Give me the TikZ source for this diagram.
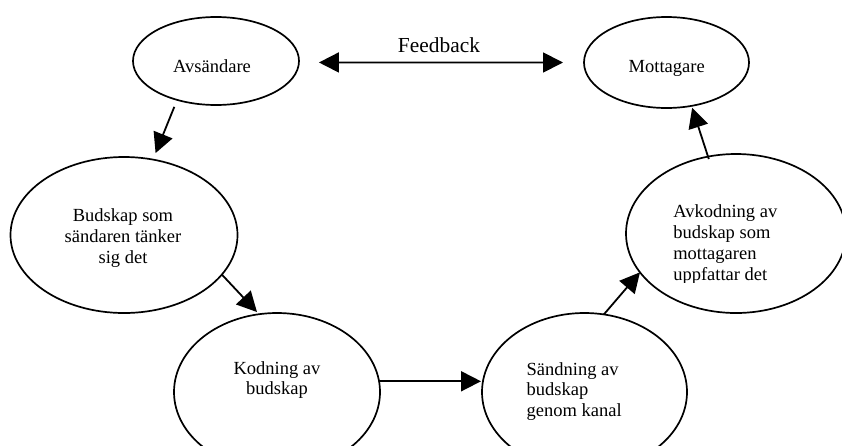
\documentclass[tikz,border=0pt]{standalone}
\usepackage{fontspec}
\setmainfont{Liberation Serif}
\usetikzlibrary{shapes.geometric,arrows.meta}
\begin{document}
\begin{tikzpicture}[x=1pt,y=-1pt,
  oval/.style={ellipse,draw=black,line width=1.7pt,inner sep=0pt,outer sep=0pt},
  tip/.tip={Triangle[length=20pt,width=20pt]},
  flow/.style={line width=1.8pt,-tip},
  both/.style={line width=1.8pt,tip-tip},
  lbl/.style={inner sep=0pt,outer sep=0pt,font=\fontsize{18.5}{20.9}\selectfont},
]
\useasboundingbox (0,0) rectangle (842,445);
\fill[white] (0,0) rectangle (842,445);
\clip (0,0) rectangle (842,445);

% the six stages of the communication process
\node[oval,minimum width=166pt,minimum height=88pt] (avs) at (216,61) {};
\node[oval,minimum width=165pt,minimum height=91pt] (mot) at (666.5,62.5) {};
\node[oval,minimum width=227pt,minimum height=156pt] (bud) at (124,235) {};
\node[oval,minimum width=206pt,minimum height=158pt] (kod) at (277,392) {};
\node[oval,minimum width=205pt,minimum height=158pt] (san) at (584.5,392) {};
\node[oval,minimum width=220pt,minimum height=159pt] (avk) at (736,233.5) {};

% texts inside the ovals
\node[lbl,anchor=base] (avs-t) at (212,72) {Avsändare};
\node[lbl,anchor=base] (mot-t) at (666.7,72.3) {Mottagare};
\node[lbl,anchor=base] (bud-t) at (123,221.7)
  {\begin{tabular}[t]{@{}c@{}}Budskap som\\sändaren tänker\\sig det\end{tabular}};
\node[lbl,anchor=base] (kod-t) at (277,374)
  {\begin{tabular}[t]{@{}c@{}}Kodning av\\budskap\end{tabular}};
\node[lbl,anchor=base west] (san-t) at (526.7,375)
  {\begin{tabular}[t]{@{}l@{}}Sändning av\\budskap\\genom kanal\end{tabular}};
\begin{scope}
  \clip (600,150) rectangle (842,282);
  \node[lbl,anchor=base west] (avk-t) at (673.3,217.3)
    {\begin{tabular}[t]{@{}l@{}}Avkodning av\\budskap som\\mottagaren\\uppfattar det\end{tabular}};
\end{scope}

% connectors
\draw[flow,shorten <=7.5pt,shorten >=7pt] (avs.225.8) -- (bud.69.5);
\draw[flow,shorten >=3pt] (bud.-22.2) -- (kod.103);
\draw[flow,shorten >=1pt] (kod.6.7) -- (kod.6.7 -| san.west);
\draw[flow] (san.76.6) -- (avk.202);
\draw[flow,shorten <=-2.5pt,shorten >=2pt] (avk.110) -- (mot.-60);
\draw[both,shorten <=20pt,shorten >=21pt] (avs.-1.5) --
  node[anchor=base,yshift=10.3pt,xshift=-2.5pt,inner sep=0pt,
       font=\fontsize{21.4}{24}\selectfont] (fb) {Feedback}
  (mot.180.5);
\end{tikzpicture}
\end{document}
